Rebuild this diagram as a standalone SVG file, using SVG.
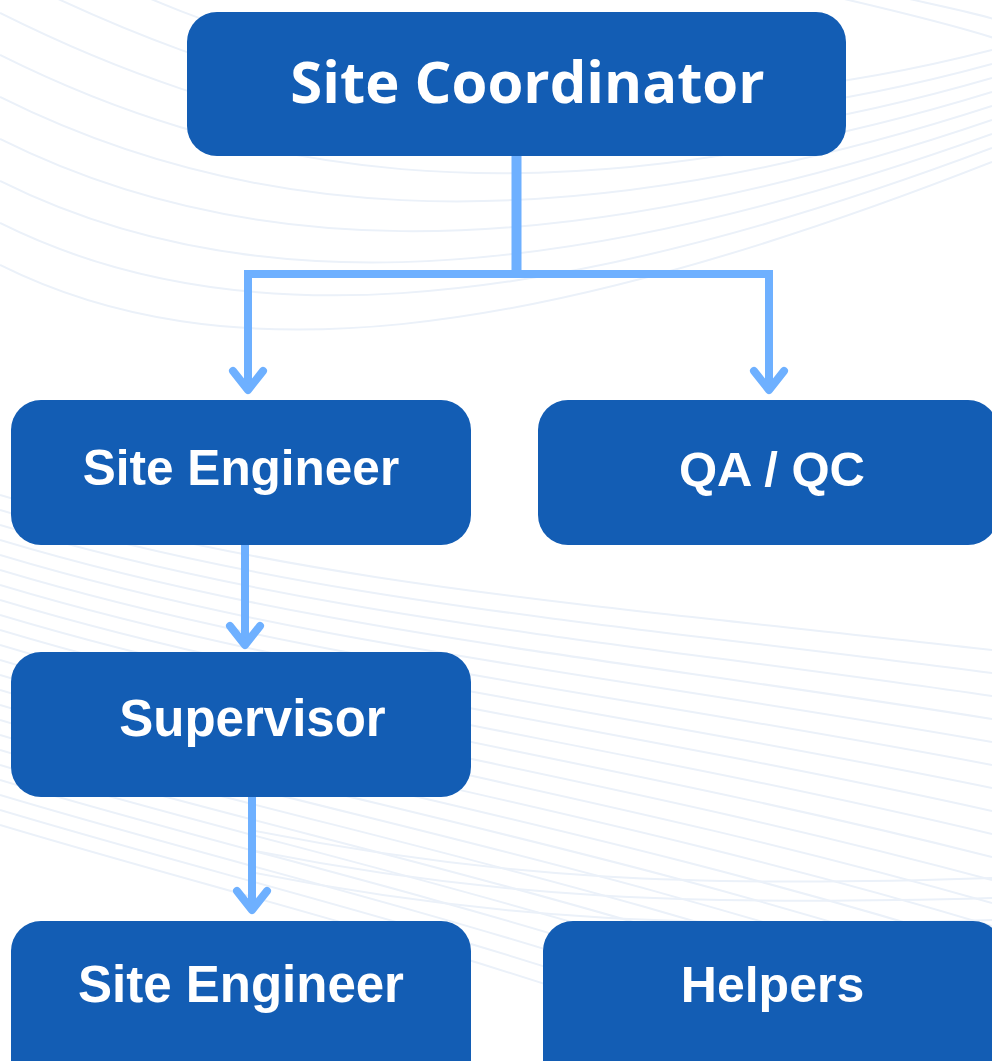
<svg xmlns="http://www.w3.org/2000/svg" width="992" height="1061" viewBox="0 0 992 1061">
<style>
.bg{fill:none;stroke:#EBF1F9;stroke-width:2}
.box{fill:#135DB4}
.lbl{fill:#FFFFFF;font-family:"Liberation Sans",Arial,sans-serif;font-weight:700;text-anchor:middle}
.lbl2{fill:#FFFFFF;font-family:"Open Sans","Noto Sans",sans-serif;font-weight:700;text-anchor:middle}
.ln{fill:none;stroke:#6EB0FF;stroke-width:8}
.hd{fill:none;stroke:#6EB0FF;stroke-width:8;stroke-linecap:round;stroke-linejoin:round}
</style>
<rect width="992" height="1061" fill="#FFFFFF"/>
<g id="background">
<path class="bg" d="M0,-71 C220,39 520,171 992,50"/>
<path class="bg" d="M0,-29 C220,81 520,193 992,64"/>
<path class="bg" d="M0,13 C220,123 520,215 992,78"/>
<path class="bg" d="M0,55 C220,165 520,237 992,92"/>
<path class="bg" d="M0,97 C220,207 520,259 992,106"/>
<path class="bg" d="M0,139 C220,249 520,281 992,120"/>
<path class="bg" d="M0,181 C220,291 520,303 992,134"/>
<path class="bg" d="M0,223 C220,333 520,325 992,148"/>
<path class="bg" d="M0,265 C220,375 520,347 992,162"/>
<path class="bg" d="M840,-2 C900,12 950,24 994,38"/>
<path class="bg" d="M905,-2 C940,6 970,12 994,19"/>
<path class="bg" d="M0,495 C300,585 600,605 992,650"/>
<path class="bg" d="M0,510 C300,600 600,622 992,673"/>
<path class="bg" d="M0,525 C300,615 600,639 992,696"/>
<path class="bg" d="M0,540 C300,630 600,656 992,719"/>
<path class="bg" d="M0,555 C300,645 600,673 992,742"/>
<path class="bg" d="M0,570 C300,660 600,690 992,765"/>
<path class="bg" d="M0,585 C300,675 600,707 992,788"/>
<path class="bg" d="M0,600 C300,690 600,724 992,811"/>
<path class="bg" d="M0,615 C300,705 600,741 992,834"/>
<path class="bg" d="M0,630 C300,720 600,758 992,857"/>
<path class="bg" d="M0,645 C300,735 600,775 992,880"/>
<path class="bg" d="M0,660 C300,750 600,792 992,903"/>
<path class="bg" d="M0,675 C300,765 600,809 992,926"/>
<path class="bg" d="M0,690 C300,780 600,826 992,949"/>
<path class="bg" d="M0,705 C300,795 600,843 992,972"/>
<path class="bg" d="M0,720 C300,810 600,860 992,995"/>
<path class="bg" d="M0,735 C300,825 600,877 992,1018"/>
<path class="bg" d="M0,750 C300,840 600,894 992,1041"/>
<path class="bg" d="M0,765 C300,855 600,911 992,1064"/>
<path class="bg" d="M0,780 C300,870 600,928 992,1087"/>
<path class="bg" d="M0,795 C300,885 600,945 992,1110"/>
<path class="bg" d="M0,810 C300,900 600,962 992,1133"/>
<path class="bg" d="M0,825 C300,915 600,979 992,1156"/>
<path class="bg" d="M250,830 C500,880 700,888 994,878"/>
<path class="bg" d="M250,850 C500,900 700,906 994,898"/>
<path class="bg" d="M250,872 C500,922 700,928 994,920"/>
</g>
<g id="connectors">
<path class="ln" d="M516.5,156 V274" style="stroke-width:10"/>
<path class="ln" d="M244,274 H773"/>
<path class="ln" d="M248,274 V386"/>
<path class="hd" d="M233,371 L248,390 L263,371"/>
<path class="ln" d="M769,274 V386"/>
<path class="hd" d="M754,371 L769,390 L784,371"/>
<path class="ln" d="M245,545 V641"/>
<path class="hd" d="M230,626 L245,645 L260,626"/>
<path class="ln" d="M252,797 V906"/>
<path class="hd" d="M237,891 L252,910 L267,891"/>
</g>
<g id="node-site-coordinator">
<rect class="box" x="187" y="12" width="659" height="144" rx="30"/>
<text class="lbl2" x="527.5" y="103" font-size="58">Site Coordinator</text>
</g>
<g id="node-site-engineer-1">
<rect class="box" x="11" y="400" width="460" height="145" rx="30"/>
<text class="lbl" x="241" y="485" font-size="49.5">Site Engineer</text>
</g>
<g id="node-qa-qc">
<rect class="box" x="538" y="400" width="460" height="145" rx="30"/>
<text class="lbl" x="772" y="486" font-size="49">QA / QC</text>
</g>
<g id="node-supervisor">
<rect class="box" x="11" y="652" width="460" height="145" rx="30"/>
<text class="lbl" x="252.5" y="736" font-size="51">Supervisor</text>
</g>
<g id="node-site-engineer-2">
<rect class="box" x="11" y="921" width="460" height="170" rx="30"/>
<text class="lbl" x="241" y="1002" font-size="51">Site Engineer</text>
</g>
<g id="node-helpers">
<rect class="box" x="543" y="921" width="460" height="170" rx="30"/>
<text class="lbl" x="772.5" y="1002" font-size="50">Helpers</text>
</g>
</svg>
